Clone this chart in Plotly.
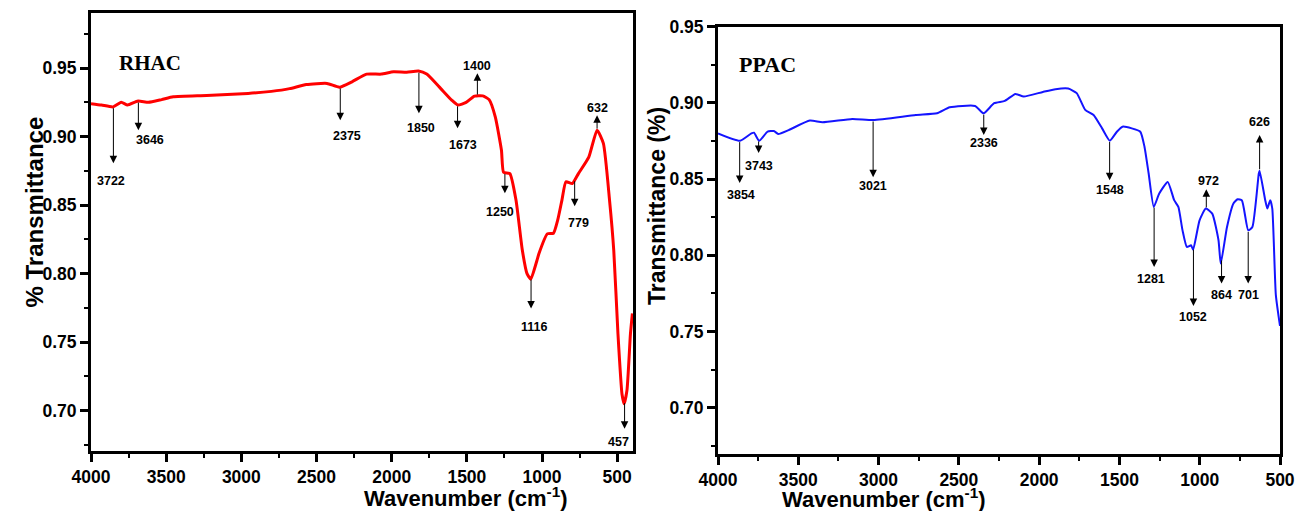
import numpy as np
import plotly.graph_objects as go

# ---------------- data ----------------
rhac_wn = [4000, 3930, 3853, 3799, 3757, 3687, 3618, 3530, 3453, 3231, 2955, 2800, 2679, 2568,
           2430, 2347, 2264, 2167, 2070, 1988, 1900, 1822, 1767, 1684, 1601, 1560, 1505, 1449,
           1394, 1352, 1311, 1270, 1256, 1214, 1173, 1131, 1100, 1075, 1034, 1021, 965, 924,
           896, 868, 841, 799, 758, 689, 634, 592, 551, 523, 495, 468, 454, 435, 412, 399]
rhac_t = [0.924, 0.923, 0.9217, 0.925, 0.923, 0.926, 0.925, 0.927, 0.929, 0.930, 0.9315, 0.933,
          0.935, 0.938, 0.9388, 0.936, 0.940, 0.9456, 0.9456, 0.9473, 0.947, 0.9478, 0.9456,
          0.9363, 0.9266, 0.923, 0.925, 0.9295, 0.9297, 0.927, 0.9144, 0.890, 0.874, 0.873,
          0.8535, 0.817, 0.800, 0.796, 0.8096, 0.8145, 0.829, 0.8295, 0.839, 0.8535, 0.867,
          0.8657, 0.873, 0.885, 0.9047, 0.895, 0.8535, 0.817, 0.756, 0.712, 0.705, 0.715,
          0.756, 0.771]

ppac_wn = [4000, 3863, 3792, 3776, 3744, 3691, 3652, 3625, 3560, 3428, 3349, 3164, 3032, 2768,
           2636, 2557, 2399, 2346, 2280, 2214, 2148, 2096, 1977, 1898, 1819, 1766, 1713, 1661,
           1608, 1560, 1516, 1481, 1423, 1370, 1344, 1318, 1286, 1252, 1199, 1159, 1133, 1107,
           1080, 1054, 1041, 1001, 962, 922, 883, 869, 830, 790, 764, 737, 698, 672, 632, 627,
           592, 579, 561, 548, 526, 500]
ppac_t = [0.880, 0.8752, 0.880, 0.8805, 0.8752, 0.8811, 0.8816, 0.8796, 0.8822, 0.8884, 0.8873,
          0.8895, 0.8888, 0.8921, 0.8932, 0.8971, 0.898, 0.8932, 0.8998, 0.9013, 0.9059, 0.9042,
          0.9072, 0.909, 0.9094, 0.9064, 0.8954, 0.8921, 0.8833, 0.8752, 0.8811, 0.8844, 0.8833,
          0.8811, 0.8713, 0.8537, 0.8318, 0.8406, 0.8482, 0.8362, 0.8318, 0.8164, 0.8055, 0.8066,
          0.8037, 0.823, 0.8307, 0.8274, 0.8099, 0.7946, 0.8186, 0.834, 0.8368, 0.836, 0.8164,
          0.8186, 0.8537, 0.8555, 0.8362, 0.8307, 0.8362, 0.8307, 0.7741, 0.7537]

# peak annotations (label text, arrow position, arrow tip, label position)
rhac_peak_text = ["3722", "3646", "2375", "1850", "1673", "1400", "1250", "1116", "779", "632", "457"]
rhac_peak_x = [3851, 3685, 2342, 1819, 1562, 1430, 1247, 1073, 783, 634, 451]
rhac_tip_y = [0.8806, 0.9047, 0.912, 0.9171, 0.9061, 0.9463, 0.8586, 0.7746, 0.8491, 0.9156, 0.6868]
rhac_label_x = [3867, 3610, 2300, 1803, 1529, 1430, 1280, 1056, 758, 634, 494]
rhac_label_y = [0.8674, 0.8974, 0.9003, 0.9061, 0.8937, 0.9515, 0.8447, 0.7614, 0.8367, 0.9208, 0.6773]

ppac_peak_text = ["3854", "3743", "3021", "2336", "1548", "1281", "1052", "972", "864", "701", "626"]
ppac_peak_x = [3865, 3747, 3034, 2345, 1561, 1284, 1039, 959, 864, 698, 627]
ppac_tip_y = [0.8474, 0.8671, 0.8513, 0.879, 0.8493, 0.7923, 0.7668, 0.8434, 0.7816, 0.7816, 0.8789]
ppac_label_x = [3857, 3747, 3034, 2345, 1561, 1302, 1039, 944, 864, 698, 627]
ppac_label_y = [0.8395, 0.8586, 0.8454, 0.8737, 0.8428, 0.7842, 0.7596, 0.8487, 0.7743, 0.7743, 0.8875]

x_ticks = [4000, 3500, 3000, 2500, 2000, 1500, 1000, 500]
y_ticks = [0.70, 0.75, 0.80, 0.85, 0.90, 0.95]

# ---------------- figure ----------------
W, H = 1305, 511
fig = go.Figure()

fig.add_trace(go.Scatter(x=rhac_wn, y=rhac_t, mode="lines", xaxis="x", yaxis="y",
                         line=dict(color="#ff0000", width=3, shape="spline", smoothing=0.5),
                         showlegend=False, hoverinfo="skip"))
fig.add_trace(go.Scatter(x=ppac_wn, y=ppac_t, mode="lines", xaxis="x2", yaxis="y2",
                         line=dict(color="#1414ff", width=2, shape="spline", smoothing=0.5),
                         showlegend=False, hoverinfo="skip"))

tickfont = dict(family="Liberation Sans, Arial, sans-serif", size=17.5, color="black", weight="bold")
def xaxis(domain, rng, anchor):
    return dict(domain=domain, range=rng, anchor=anchor, tickvals=x_ticks, automargin=False,
                ticks="outside", ticklen=8, tickwidth=2.5, tickcolor="black",
                showline=True, linewidth=3, linecolor="black", mirror=True,
                showgrid=False, zeroline=False, tickfont=tickfont,
                minor=dict(dtick=250, tick0=0, ticks="outside", ticklen=4, tickwidth=2, tickcolor="black"))
def yaxis(domain, rng, anchor):
    return dict(domain=domain, range=rng, anchor=anchor, tickvals=y_ticks, tickformat=".2f",
                automargin=False,
                ticks="outside", ticklen=8, tickwidth=2.5, tickcolor="black",
                showline=True, linewidth=3, linecolor="black", mirror=True,
                showgrid=False, zeroline=False, tickfont=tickfont,
                minor=dict(dtick=0.025, tick0=0, ticks="outside", ticklen=4, tickwidth=2, tickcolor="black"))

fig.update_layout(
    template="none",
    width=W, height=H, margin=dict(l=0, r=0, t=0, b=0, autoexpand=False),
    paper_bgcolor="white", plot_bgcolor="white",
    xaxis=xaxis([91 / W, 633 / W], [4000, 395], "y"),
    yaxis=yaxis([1 - 451 / H, 1 - 12.7 / H], [0.6706, 0.9904], "x"),
    xaxis2=xaxis([718 / W, 1280 / W], [4000, 500], "y2"),
    yaxis2=yaxis([1 - 454 / H, 1 - 26.7 / H], [0.6697, 0.95], "x2"),
)

annots = []
lblfont = dict(family="Liberation Sans, Arial, sans-serif", size=12.5, color="black", weight="bold")

def add_peaks(texts, px, tips, lx, ly, wn, tr, xr, yr):
    wn_a = np.array(wn)[::-1]
    tr_a = np.array(tr)[::-1]
    for t, x, ty, tx, tly in zip(texts, px, tips, lx, ly):
        base = float(np.interp(x, wn_a, tr_a))
        annots.append(dict(x=x, y=ty, ax=x, ay=base, xref=xr, yref=yr, axref=xr, ayref=yr,
                           text="", showarrow=True, arrowhead=2, arrowsize=1.5, arrowwidth=1,
                           arrowcolor="black", standoff=0, startstandoff=0))
        annots.append(dict(x=tx, y=tly, xref=xr, yref=yr, text=t, showarrow=False,
                           font=lblfont, xanchor="center", yanchor="middle"))

add_peaks(rhac_peak_text, rhac_peak_x, rhac_tip_y, rhac_label_x, rhac_label_y, rhac_wn, rhac_t, "x", "y")
add_peaks(ppac_peak_text, ppac_peak_x, ppac_tip_y, ppac_label_x, ppac_label_y, ppac_wn, ppac_t, "x2", "y2")

serif = dict(family="Liberation Serif, Times New Roman, serif", size=21, color="black", weight="bold")
annots.append(dict(x=3605, y=0.9534, xref="x", yref="y", text="RHAC", showarrow=False, font=serif))
annots.append(dict(x=3691, y=0.925, xref="x2", yref="y2", text="PPAC", showarrow=False,
                   font=dict(serif, size=22)))

tfont = dict(family="Liberation Sans, Arial, sans-serif", size=22, color="black", weight="bold")
annots.append(dict(x=362 / W, y=1 - 497 / H, xref="paper", yref="paper", showarrow=False,
                   text="Wavenumber (cm<sup>-1</sup>)", font=tfont, yanchor="middle"))
annots.append(dict(x=988 / W, y=1 - 497.5 / H, xref="paper", yref="paper", showarrow=False,
                   text="Wavenumber (cm<sup>-1</sup>)", font=tfont, yanchor="middle"))
annots.append(dict(x=18 / W, y=1 - 212 / H, xref="paper", yref="paper", showarrow=False,
                   text="% Transmittance", textangle=-90, font=dict(tfont, size=24)))
annots.append(dict(x=657 / W, y=1 - 206 / H, xref="paper", yref="paper", showarrow=False,
                   text="Transmittance (%)", textangle=-90, font=dict(tfont, size=23)))

fig.update_layout(annotations=annots)
fig.write_html("out.html", config={"displayModeBar": False},
               post_script="document.body.style.margin='0';")
